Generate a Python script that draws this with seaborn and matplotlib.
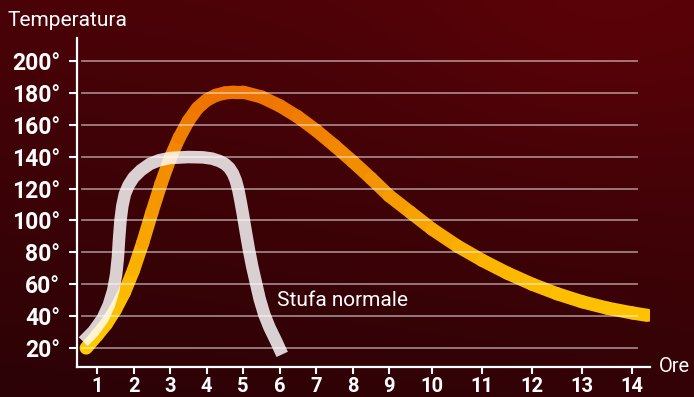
import numpy as np
import matplotlib
matplotlib.use("Agg")
import matplotlib.pyplot as plt
from matplotlib.collections import LineCollection
from matplotlib.colors import LinearSegmentedColormap
import seaborn as sns

plt.rcParams['font.family'] = ['Roboto', 'DejaVu Sans']

# dati
ore_tick = [1, 2, 3, 4, 5, 6, 7, 8, 9, 10, 11, 12, 13, 14]
temp_tick = [20, 40, 60, 80, 100, 120, 140, 160, 180, 200]
temp_labels = [f"{t}°" for t in temp_tick]

# stufa ad accumulo (curva arancione)
accumulo_ore = [0.7, 1.0, 1.25, 1.5, 1.75, 2.0, 2.25, 2.5, 2.75, 3.0, 3.25, 3.5,
                3.75, 4.0, 4.25, 4.5, 4.75, 5.0, 5.5, 6.0, 6.5, 7.0, 7.5, 8.0,
                8.5, 9.0, 9.5, 10.0, 10.5, 11.0, 11.5, 12.0, 12.5, 13.0, 13.5,
                14.0, 14.3]
accumulo_temp = [20, 28, 35, 44, 55, 69, 86, 105, 123, 139, 152, 162.5,
                 170.5, 175.5, 178.5, 180, 180.5, 180.5, 177.5, 172, 165, 156.5, 147, 137,
                 126.5, 115.5, 105, 94.5, 84, 75, 67, 60, 54, 49, 45,
                 42, 40.5]

# stufa normale (curva bianca)
normale_ore = [0.62, 0.9, 1.15, 1.32, 1.44, 1.52, 1.57, 1.6, 1.64, 1.69, 1.76, 1.86,
               2.0, 2.2, 2.45, 2.7, 3.0, 3.5, 3.9, 4.15, 4.35, 4.5, 4.62, 4.72,
               4.8, 4.87, 4.93, 5.0, 5.08, 5.16, 5.25, 5.34, 5.45, 5.58, 5.72,
               5.9, 6.07]
normale_temp = [24, 30.5, 38.5, 47, 56, 66, 77, 88, 100, 109, 116.5, 122,
                127, 131.5, 135.5, 137.8, 139.2, 139.8, 139.6, 138.8, 137.3, 135.5, 133, 129.5,
                125, 119, 112, 103, 92, 81.5, 71, 62, 51, 41, 33,
                24.5, 16]

# scala orizzontale non uniforme (dopo le 9 ore gli intervalli si allargano)
scala_ore = [0, 1, 2, 3, 4, 5, 6, 7, 8, 9, 10, 11, 12, 13, 14, 15]
scala_pos = [0, 1, 2, 3, 4, 5, 6, 7, 8, 9, 10.18, 11.55, 12.92, 14.29, 15.66, 17.03]


def fwd(x):
    return np.interp(x, scala_ore, scala_pos)


def inv(x):
    return np.interp(x, scala_pos, scala_ore)


fig = plt.figure(figsize=(6.94, 3.97), dpi=100)

# sfondo rosso scuro sfumato
bg = fig.add_axes([0, 0, 1, 1], zorder=-10)
yy, xx = np.mgrid[0:1:200j, 0:1:350j]
top = np.array([0.32, 0.01, 0.03])
bottom = np.array([0.17, 0.01, 0.025])
w = np.clip(0.8 * yy + 0.2 * (1 - xx), 0, 1)[..., None]
img = top * (1 - w) + bottom * w
img[..., 0] += 0.04 * np.exp(-((xx - 0.85) ** 2 / 0.08 + (yy - 0.1) ** 2 / 0.1))
bg.imshow(img, aspect='auto', extent=[0, 1, 0, 1], origin='upper')
bg.axis('off')

ax = fig.add_axes([0.111, 0.0756, 0.826, 0.8284])
ax.set_facecolor('none')
ax.set_xscale('function', functions=(fwd, inv))
ax.set_xlim(0.45, 14.36)
ax.set_ylim(8.1, 214.4)

# curva arancione: colore in base alla temperatura
cmap = LinearSegmentedColormap.from_list('arancio', ['#ffcc00', '#fcb400', '#f39000', '#ee7300'])
segs = [np.column_stack([accumulo_ore[i:i + 2], accumulo_temp[i:i + 2]])
        for i in range(len(accumulo_ore) - 1)]
mid = (np.array(accumulo_temp[:-1]) + np.array(accumulo_temp[1:])) / 2
lc = LineCollection(segs, cmap=cmap, linewidths=9.5, capstyle='round', zorder=2)
lc.set_array(mid)
lc.set_clim(20, 180)
ax.add_collection(lc)

sns.lineplot(x=normale_ore, y=normale_temp, sort=False, ax=ax, color='white',
             alpha=0.82, linewidth=9, legend=False, zorder=3,
             solid_capstyle='butt', solid_joinstyle='round')

for t in temp_tick:
    ax.axhline(t, xmin=0.009, xmax=0.976, color='white', alpha=0.5, lw=1.3, zorder=4)

ax.text(5.93, 50, 'Stufa normale', color='white', fontsize=15, va='center', ha='left')

sns.despine(ax=ax)
for s in ['left', 'bottom']:
    ax.spines[s].set_color('white')
    ax.spines[s].set_linewidth(1.6)

ax.set_xticks(ore_tick)
ax.set_xticklabels([str(o) for o in ore_tick], fontweight='bold')
ax.set_yticks(temp_tick)
ax.set_yticklabels(temp_labels, fontweight='bold')
ax.xaxis.set_minor_locator(plt.NullLocator())
ax.tick_params(axis='x', length=5, width=1.5, color='white', labelcolor='white',
               labelsize=14.5, pad=2.5)
ax.tick_params(axis='y', length=6, width=1.5, color='white', labelcolor='white',
               labelsize=16.5, pad=6)

fig.text(8 / 694, 1 - 21 / 397, 'Temperatura', color='white', fontsize=15, va='center')
fig.text(659 / 694, 1 - 366 / 397, 'Ore', color='white', fontsize=14.5, va='center')

fig.savefig('out.png', dpi=100)
